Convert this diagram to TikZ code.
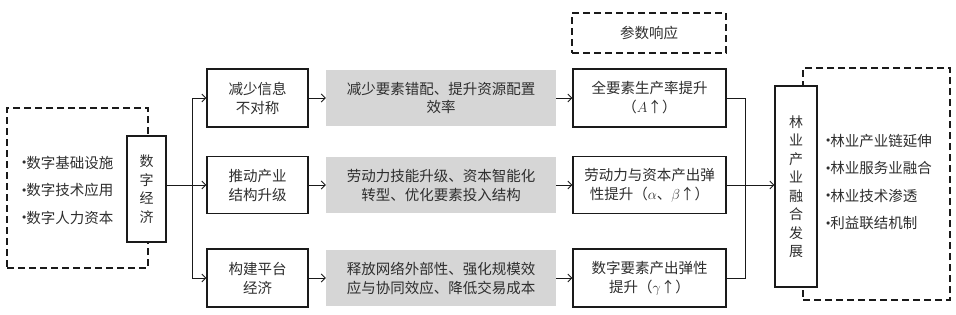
\documentclass[tikz,border=0pt]{standalone}
\usepackage{fontspec}
\usepackage{tikz}
\usetikzlibrary{positioning,arrows.meta,calc}
\newfontfamily\cjk{Noto Sans CJK SC}
\definecolor{DEline}{HTML}{1A1A1A}
\definecolor{DEtext}{HTML}{2E2E2E}
\definecolor{DEgray}{HTML}{D6D6D6}
\tikzset{
  solidbox/.style={draw=DEline, line width=1.3pt, fill=white, align=center, inner sep=0pt, font=\cjk\fontsize{14.5}{19}\selectfont, text=DEtext},
  graybox/.style={fill=DEgray, align=center, inner sep=0pt, font=\cjk\fontsize{14.5}{19}\selectfont, text=DEtext},
  vertbox/.style={solidbox, font=\cjk\fontsize{14}{18.5}\selectfont},
  dashframe/.style={draw=DEline, line width=1.3pt, dash pattern=on 7pt off 4pt, inner sep=0pt},
  listtext/.style={align=left, inner sep=0pt, font=\cjk\fontsize{14.5}{27.5}\selectfont, text=DEtext},
  flowarr/.style={-{Straight Barb[length=4pt,width=8pt]}, line width=0.8pt, draw=DEline},
  flowline/.style={line width=0.8pt, draw=DEline}
}
\newcommand{\dotitem}{\raisebox{3.5pt}{\fontsize{8}{8}\selectfont$\bullet$}}

\begin{document}
\begin{tikzpicture}[x=1pt, y=-1pt]
  \useasboundingbox (0,0) rectangle (956,314);
  % dashed frames
  \node[dashframe, minimum width=141pt, minimum height=160pt] (inframe) at (77.5,188) {};
  \node[dashframe, minimum width=147pt, minimum height=232pt] (outframe) at (876.5,184) {};
  \node[dashframe, minimum width=154pt, minimum height=40pt, font=\cjk\fontsize{14.5}{19}\selectfont, text=DEtext] (param) at (649,33) {参数响应};
  % lists
  \node[listtext, anchor=west] (inlist) at (22,190) {\dotitem 数字基础设施\\ \dotitem 数字技术应用\\ \dotitem 数字人力资本};
  \node[listtext, anchor=west] (outlist) at (826,182) {\dotitem 林业产业链延伸\\ \dotitem 林业服务业融合\\ \dotitem 林业技术渗透\\ \dotitem 利益联结机制};
  % main boxes
  \node[vertbox, minimum width=39pt, minimum height=106pt] (econ) at (146.5,189) {数\\字\\经\\济};
  \node[vertbox, minimum width=42pt, minimum height=201pt] (forest) at (796,186.5) {林\\业\\产\\业\\融\\合\\发\\展};
  \node[solidbox, minimum width=101pt, minimum height=58pt] (mech1) at (257.5,98) {减少信息\\不对称};
  \node[solidbox, minimum width=101pt, minimum height=57pt] (mech2) at (257.5,185) {推动产业\\结构升级};
  \node[solidbox, minimum width=101pt, minimum height=58pt] (mech3) at (257.5,278) {构建平台\\经济};
  \node[graybox, minimum width=230pt, minimum height=56pt] (path1) at (441,98) {减少要素错配、提升资源配置\\效率};
  \node[graybox, minimum width=230pt, minimum height=56pt] (path2) at (441,185) {劳动力技能升级、资本智能化\\转型、优化要素投入结构};
  \node[graybox, minimum width=230pt, minimum height=56pt] (path3) at (441,278) {释放网络外部性、强化规模效\\应与协同效应、降低交易成本};
  \node[solidbox, minimum width=153pt, minimum height=58pt] (resp1) at (649.5,98) {全要素生产率提升\\（$A$↑）};
  \node[solidbox, minimum width=153pt, minimum height=57pt] (resp2) at (649.5,185) {劳动力与资本产出弹\\性提升（$\alpha$、$\beta$↑）};
  \node[solidbox, minimum width=153pt, minimum height=58pt] (resp3) at (649.5,278) {数字要素产出弹性\\提升（$\gamma$↑）};
  % connectors
  \coordinate (split) at (192,185);
  \coordinate (merge) at (745,185);
  \draw[flowarr] (econ.east |- mech2.west) -- (mech2.west);
  \draw[flowarr] (split) |- (mech1.west);
  \draw[flowarr] (split) |- (mech3.west);
  \foreach \i in {1,2,3} {
    \draw[flowarr] (mech\i.east) -- (path\i.west);
    \draw[flowarr] (path\i.east) -- (resp\i.west);
  }
  \draw[flowline] (resp1.east) -| (merge);
  \draw[flowline] (resp3.east) -| (merge);
  \draw[flowarr] (resp2.east) -- (forest.west |- resp2.east);
\end{tikzpicture}
\end{document}
